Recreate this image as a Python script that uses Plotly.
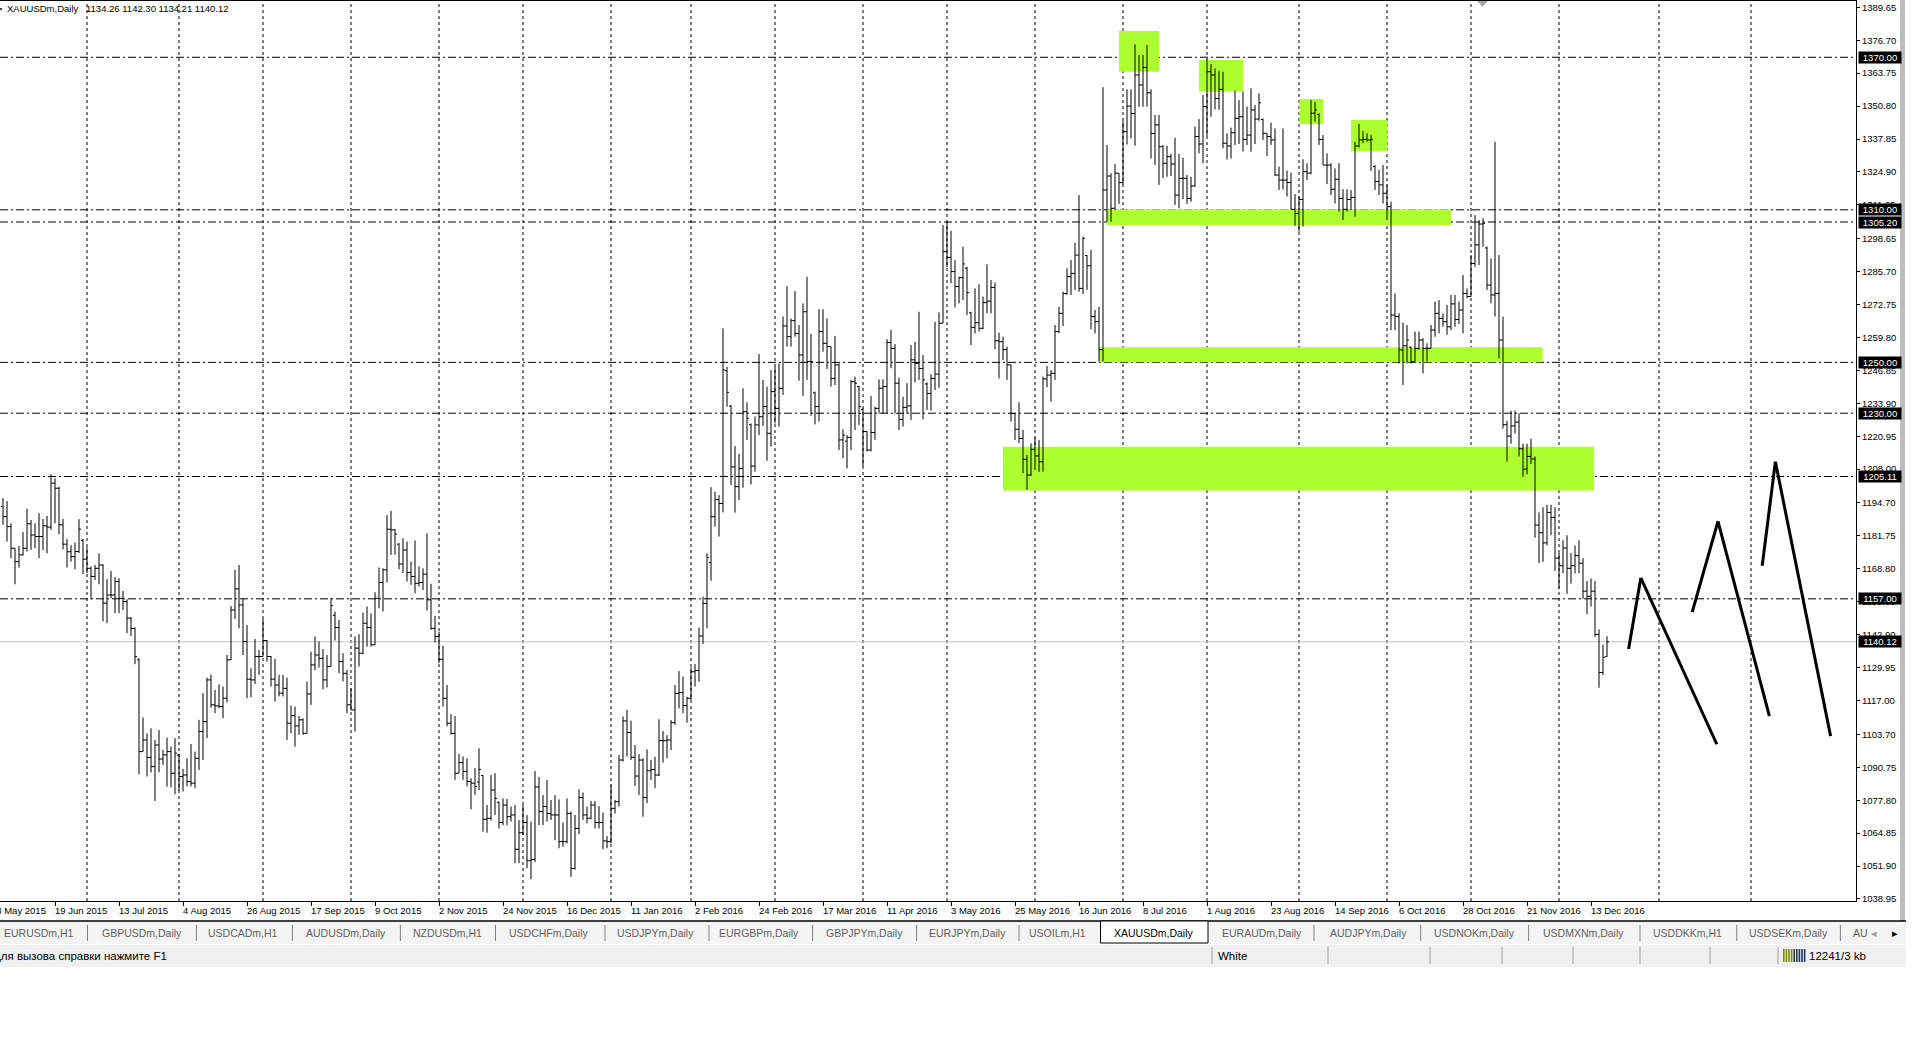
import pandas as pd
import plotly.graph_objects as go

# ---------------- data ----------------
symbol_title = "XAUUSDm,Daily"
header_ohlc = "1134.26 1142.30 1134.21 1140.12"

holidays = ["2015-12-25", "2016-01-01", "2016-03-25"]
calendar_start = "2015-05-28"
first_bar_date = "2015-06-02"
last_bar_date = "2016-12-19"

opens = [
1193.3,1189.3,1185.4,1176.9,1171.6,1174.3,1176.9,1186.5,1182.1,1181.5,
1181.5,1185.7,1185.2,1202.5,1200.5,1186.1,1178.5,1175.5,1173.6,1175.6,
1180.0,1172.6,1169.0,1165.8,1169.0,1170.3,1155.3,1158.5,1158.5,1163.8,
1157.2,1155.9,1149.4,1145.4,1133.0,1096.9,1101.5,1094.6,1091.0,1099.5,
1094.0,1095.6,1096.9,1088.4,1095.5,1087.1,1087.7,1085.1,1084.5,1094.3,
1104.8,1108.7,1125.1,1115.3,1114.9,1114.6,1117.9,1133.0,1152.6,1160.9,
1154.6,1140.2,1125.4,1125.1,1134.3,1134.3,1140.6,1134.3,1125.4,1123.1,
1119.9,1121.8,1108.1,1111.0,1107.0,1109.4,1104.1,1119.6,1131.0,1134.9,
1133.6,1125.1,1130.4,1150.5,1145.7,1132.3,1127.7,1115.3,1113.3,1137.6,
1135.6,1147.4,1145.7,1138.9,1157.2,1163.4,1168.4,1184.4,1184.1,1178.5,
1170.7,1176.2,1167.3,1165.8,1163.1,1163.4,1166.7,1156.6,1145.4,1142.2,
1133.2,1117.9,1108.1,1104.1,1088.4,1092.6,1089.1,1085.1,1084.5,1085.0,
1087.5,1070.3,1070.7,1081.8,1077.0,1069.0,1075.9,1071.3,1072.0,1058.5,
1065.0,1069.0,1054.0,1054.5,1083.0,1073.3,1075.3,1072.6,1072.0,1072.0,
1061.5,1061.5,1072.6,1051.0,1066.7,1078.8,1072.0,1070.7,1075.9,1069.0,
1069.0,1061.8,1061.5,1074.6,1077.2,1093.6,1109.0,1104.4,1094.7,1087.3,
1093.6,1078.9,1089.4,1089.9,1087.7,1101.2,1101.2,1101.5,1108.3,1119.8,
1120.1,1115.0,1117.9,1128.3,1128.8,1142.4,1155.2,1171.2,1189.3,1196.0,
1194.5,1246.7,1232.8,1208.9,1201.1,1208.3,1230.6,1225.5,1209.2,1225.4,
1228.6,1232.6,1222.1,1238.5,1231.9,1239.8,1264.3,1260.1,1266.4,1261.4,
1252.9,1269.9,1250.3,1238.0,1232.6,1262.1,1257.5,1256.2,1243.7,1249.0,
1219.5,1219.0,1220.5,1242.4,1240.5,1231.5,1222.8,1215.5,1222.4,1231.9,
1239.8,1240.5,1257.8,1255.5,1241.8,1227.6,1232.3,1232.9,1251.0,1249.6,
1247.6,1241.5,1237.8,1243.7,1245.4,1265.4,1293.5,1291.3,1285.7,1279.8,
1283.3,1287.0,1269.5,1263.8,1265.6,1263.4,1273.5,1274.1,1279.5,1258.5,
1258.1,1255.1,1249.0,1229.9,1223.7,1220.1,1211.9,1205.7,1215.8,1213.2,
1210.9,1243.5,1245.0,1245.7,1262.1,1269.3,1277.1,1283.7,1285.0,1292.2,
1279.1,1292.0,1288.0,1268.0,1266.0,1255.0,1317.8,1323.3,1310.6,1324.4,
1320.7,1340.7,1350.8,1347.9,1363.0,1359.1,1366.0,1356.0,1340.0,1343.4,
1334.8,1328.3,1330.9,1328.0,1315.8,1322.4,1322.4,1314.5,1319.4,1338.8,
1335.9,1350.6,1364.3,1363.0,1353.8,1357.4,1336.2,1335.1,1340.3,1346.0,
1346.6,1337.7,1339.4,1349.3,1345.7,1345.5,1340.1,1338.8,1337.5,1323.7,
1321.7,1321.7,1320.7,1310.2,1308.6,1314.1,1325.0,1324.4,1348.0,1347.5,
1337.7,1327.6,1327.6,1318.1,1322.0,1314.5,1310.2,1314.1,1314.9,1335.1,
1337.5,1337.7,1337.5,1327.0,1321.1,1319.8,1316.5,1311.2,1268.6,1268.0,
1254.9,1256.5,1256.0,1250.3,1255.5,1258.8,1255.5,1255.5,1262.7,1269.3,
1267.3,1266.0,1264.0,1273.0,1266.9,1270.6,1277.1,1275.9,1288.9,1296.2,
1304.4,1295.0,1280.4,1276.5,1277.1,1258.8,1225.5,1221.0,1225.0,1226.5,
1216.0,1208.0,1213.0,1212.0,1186.0,1183.0,1179.0,1191.0,1189.0,1173.0,
1170.0,1177.0,1169.0,1170.0,1174.0,1171.0,1160.0,1158.0,1160.0,1143.0,
1128.0,1134.26]

highs = [
1196.6,1195.5,1186.7,1176.9,1177.8,1183.3,1192.4,1188.0,1186.7,1190.7,
1188.4,1189.6,1206.0,1204.4,1201.1,1188.4,1180.6,1178.1,1179.1,1188.3,
1180.6,1177.3,1169.7,1170.3,1174.9,1170.6,1164.7,1168.0,1165.6,1165.1,
1160.1,1156.8,1149.8,1145.7,1133.6,1110.3,1104.1,1106.1,1101.5,1105.4,
1097.6,1102.4,1098.9,1102.2,1096.0,1090.1,1094.3,1099.9,1096.9,1109.4,
1119.9,1126.0,1127.2,1121.2,1123.4,1122.5,1134.9,1154.2,1168.4,1170.3,
1157.1,1146.7,1129.7,1141.2,1136.9,1149.1,1140.8,1134.5,1133.4,1127.1,
1127.1,1126.0,1115.0,1114.6,1110.9,1110.0,1124.5,1136.2,1142.2,1140.2,
1137.2,1134.9,1157.2,1151.9,1148.7,1135.6,1129.0,1121.8,1142.2,1143.1,
1151.6,1154.0,1151.3,1159.6,1169.3,1169.0,1190.0,1191.6,1184.4,1178.9,
1180.8,1179.5,1171.6,1179.9,1169.7,1169.0,1182.8,1162.9,1150.3,1144.1,
1138.5,1123.1,1111.6,1110.9,1096.0,1095.0,1094.3,1086.4,1090.4,1098.2,
1087.7,1075.9,1087.7,1088.4,1077.2,1078.5,1078.3,1075.3,1075.9,1070.0,
1075.9,1072.0,1069.4,1089.3,1087.0,1079.8,1085.7,1077.9,1079.8,1078.1,
1069.0,1078.5,1073.3,1072.0,1082.1,1080.8,1075.3,1077.5,1077.5,1075.5,
1072.9,1063.7,1083.8,1077.9,1095.6,1110.7,1113.3,1109.1,1099.5,1096.0,
1094.3,1097.8,1093.6,1094.9,1109.6,1105.0,1103.4,1109.3,1123.1,1128.6,
1126.4,1118.5,1130.0,1131.4,1145.7,1157.9,1174.9,1200.9,1199.1,1197.8,
1263.4,1248.3,1233.2,1217.1,1214.0,1239.8,1234.3,1226.0,1228.7,1253.3,
1243.1,1240.4,1247.0,1248.3,1249.6,1268.0,1280.0,1267.3,1278.1,1264.7,
1273.2,1283.7,1261.2,1238.5,1270.9,1270.9,1267.3,1256.2,1260.4,1249.6,
1223.7,1221.4,1243.1,1244.4,1240.7,1231.9,1222.8,1236.8,1232.6,1243.3,
1243.3,1259.1,1262.7,1257.2,1244.0,1236.5,1241.8,1256.8,1258.1,1269.9,
1252.9,1242.1,1245.4,1266.0,1269.7,1304.0,1305.3,1301.7,1290.3,1283.7,
1295.5,1287.6,1269.9,1279.1,1280.7,1275.9,1288.6,1282.4,1281.4,1261.7,
1260.1,1256.2,1249.0,1229.9,1234.3,1223.4,1213.6,1218.2,1220.5,1219.5,
1244.4,1248.6,1247.0,1264.7,1271.9,1277.8,1287.0,1290.3,1297.1,1315.8,
1299.4,1292.2,1294.2,1270.6,1271.9,1358.2,1335.5,1324.4,1328.0,1324.4,
1344.9,1357.4,1357.4,1375.1,1370.9,1370.9,1374.8,1357.4,1347.3,1347.3,
1335.5,1335.2,1332.0,1338.4,1332.0,1330.5,1323.7,1323.0,1342.7,1345.7,
1355.2,1369.2,1367.3,1365.6,1364.7,1364.3,1340.1,1342.3,1356.9,1353.2,
1356.5,1350.6,1357.8,1351.2,1355.8,1345.9,1340.1,1344.3,1342.0,1327.0,
1342.0,1325.4,1324.6,1316.2,1315.2,1329.9,1328.3,1353.2,1352.5,1347.9,
1339.4,1332.2,1328.3,1326.3,1328.3,1318.1,1318.1,1317.8,1336.8,1343.8,
1341.1,1340.1,1339.4,1327.6,1325.7,1327.6,1319.8,1313.2,1277.1,1269.3,
1265.6,1264.7,1256.2,1262.1,1262.1,1259.5,1257.5,1264.7,1273.9,1274.5,
1269.3,1272.6,1276.5,1276.5,1273.9,1284.4,1279.1,1292.2,1307.9,1306.0,
1306.7,1295.5,1290.9,1336.8,1292.2,1268.0,1227.0,1231.0,1231.0,1230.0,
1218.0,1218.0,1220.0,1213.0,1191.0,1193.0,1194.0,1194.0,1193.0,1175.0,
1180.0,1182.0,1175.0,1178.0,1180.0,1173.0,1164.0,1165.0,1164.0,1145.0,
1139.0,1142.30]

lows = [
1186.1,1179.5,1173.0,1162.7,1169.3,1174.0,1175.6,1176.2,1176.9,1173.0,
1176.2,1174.9,1184.1,1186.7,1182.4,1176.5,1169.3,1171.6,1168.6,1175.0,
1166.7,1167.1,1156.8,1164.4,1162.7,1148.1,1147.4,1157.2,1151.3,1151.3,
1152.6,1143.5,1142.4,1131.3,1088.0,1096.9,1087.1,1088.7,1077.5,1088.8,
1091.7,1083.2,1082.8,1080.1,1081.4,1081.2,1083.2,1083.2,1082.5,1089.7,
1093.6,1102.2,1114.2,1112.0,1114.0,1110.0,1116.2,1133.0,1149.1,1145.4,
1134.9,1117.9,1118.3,1123.5,1127.1,1134.3,1132.3,1122.5,1116.6,1118.6,
1118.6,1101.5,1104.1,1098.9,1103.5,1103.5,1104.1,1115.3,1129.0,1130.0,
1121.4,1122.1,1130.4,1140.6,1127.7,1124.5,1112.0,1113.3,1104.8,1130.4,
1135.2,1138.2,1138.2,1138.9,1153.3,1152.0,1163.4,1174.3,1174.3,1168.6,
1167.1,1163.8,1162.5,1159.2,1161.8,1160.5,1152.4,1144.8,1139.8,1131.7,
1114.6,1106.8,1103.5,1085.8,1088.4,1085.8,1083.2,1074.2,1079.9,1081.8,
1065.4,1065.0,1069.8,1072.0,1066.7,1068.0,1068.0,1069.4,1053.0,1053.0,
1064.1,1051.0,1046.7,1053.5,1068.0,1068.0,1069.4,1070.0,1062.1,1058.9,
1059.5,1060.8,1047.7,1050.5,1064.4,1070.0,1068.7,1070.3,1066.7,1066.7,
1058.5,1058.9,1060.8,1072.6,1075.3,1093.0,1094.9,1093.6,1083.4,1079.8,
1071.3,1076.6,1085.7,1082.5,1087.3,1092.6,1094.3,1097.5,1107.4,1113.9,
1112.0,1108.3,1117.2,1122.5,1124.4,1139.2,1145.4,1164.1,1185.4,1181.5,
1191.0,1232.6,1201.8,1190.9,1195.9,1200.7,1219.5,1202.0,1207.0,1221.4,
1225.0,1211.3,1216.9,1226.0,1224.7,1237.2,1256.2,1256.2,1260.1,1242.8,
1236.8,1243.1,1229.0,1225.6,1226.7,1254.2,1247.4,1240.4,1241.1,1215.5,
1212.3,1208.3,1215.5,1223.4,1225.4,1209.2,1214.9,1215.0,1219.5,1229.9,
1229.9,1229.9,1247.7,1229.9,1223.4,1224.7,1229.9,1227.3,1242.1,1243.1,
1227.6,1231.3,1231.0,1239.1,1240.0,1265.4,1287.4,1281.1,1271.6,1273.2,
1274.5,1268.6,1256.8,1261.4,1262.1,1263.0,1269.3,1269.3,1255.1,1243.7,
1250.9,1243.1,1226.7,1219.5,1218.2,1206.4,1199.8,1205.3,1207.7,1207.0,
1207.0,1240.2,1234.5,1243.1,1261.5,1264.3,1276.5,1276.5,1278.5,1277.8,
1276.9,1278.5,1263.0,1261.4,1250.3,1250.3,1305.3,1305.3,1310.0,1312.3,
1320.0,1335.7,1338.1,1335.2,1350.5,1350.5,1350.5,1330.2,1327.6,1319.8,
1322.4,1323.0,1323.3,1311.9,1310.6,1314.2,1312.3,1313.2,1319.1,1332.2,
1328.3,1339.0,1346.6,1349.5,1349.3,1334.2,1329.8,1330.2,1335.5,1335.9,
1332.9,1335.5,1332.9,1335.9,1345.0,1337.5,1331.2,1335.5,1323.3,1317.8,
1318.0,1315.2,1310.2,1303.6,1301.4,1303.4,1321.7,1324.0,1344.7,1335.5,
1327.6,1320.1,1315.8,1312.5,1309.3,1306.0,1309.3,1309.9,1307.3,1334.5,
1336.2,1336.8,1325.3,1317.8,1315.8,1312.5,1306.0,1262.7,1262.7,1249.6,
1241.1,1249.6,1249.6,1250.3,1254.9,1245.7,1250.3,1255.5,1260.1,1261.4,
1264.0,1260.8,1262.7,1264.0,1265.1,1261.4,1275.2,1275.9,1287.6,1288.3,
1295.5,1278.5,1273.2,1268.0,1251.6,1224.0,1211.0,1218.0,1222.0,1213.0,
1205.0,1206.0,1210.0,1181.0,1171.0,1171.5,1178.0,1182.0,1168.0,1161.0,
1167.0,1159.0,1163.0,1167.0,1167.0,1157.0,1151.0,1154.0,1142.0,1122.0,
1127.0,1134.21]

closes = [
1189.3,1185.4,1176.9,1171.6,1174.3,1176.9,1186.5,1182.1,1181.5,1181.5,
1185.7,1185.2,1202.5,1200.5,1186.1,1178.5,1175.5,1173.6,1175.6,1184.4,
1172.6,1169.0,1165.8,1169.0,1170.3,1155.3,1158.5,1158.5,1163.8,1157.2,
1155.9,1149.4,1145.4,1134.3,1096.9,1101.5,1094.6,1091.0,1099.5,1094.0,
1095.6,1096.9,1088.4,1096.3,1087.1,1087.7,1085.1,1084.5,1094.3,1104.8,
1108.7,1125.1,1115.3,1114.9,1114.6,1117.9,1133.0,1152.6,1160.9,1154.6,
1140.2,1125.4,1125.1,1134.3,1134.3,1140.6,1134.3,1125.4,1123.1,1119.9,
1121.8,1108.1,1111.0,1107.0,1109.4,1104.1,1119.6,1131.0,1134.9,1133.6,
1125.1,1130.4,1154.3,1145.7,1132.3,1127.7,1115.3,1113.3,1137.6,1135.6,
1147.4,1145.7,1138.9,1157.2,1163.4,1168.4,1184.4,1184.1,1182.5,1170.7,
1176.2,1167.3,1165.8,1163.1,1163.4,1166.7,1156.6,1145.4,1142.2,1133.2,
1117.9,1108.1,1104.1,1088.4,1092.6,1089.1,1085.1,1084.5,1083.2,1089.9,
1070.3,1070.7,1081.8,1078.5,1069.0,1075.9,1071.3,1072.0,1058.5,1065.0,
1069.0,1054.0,1054.5,1083.0,1073.3,1075.3,1072.6,1072.0,1072.0,1061.5,
1061.5,1072.6,1051.0,1066.7,1078.8,1072.0,1070.7,1075.9,1069.0,1069.0,
1061.8,1061.5,1074.6,1077.2,1093.6,1109.0,1104.4,1094.7,1087.3,1093.6,
1078.9,1089.4,1089.9,1087.7,1101.2,1101.2,1101.5,1108.3,1119.8,1120.1,
1115.0,1117.9,1128.3,1128.8,1142.4,1155.2,1173.3,1189.3,1196.0,1194.5,
1247.0,1238.2,1208.9,1201.1,1208.3,1230.6,1228.0,1209.2,1225.4,1228.6,
1232.6,1222.1,1238.5,1231.9,1239.8,1264.3,1260.1,1266.4,1261.4,1252.9,
1269.9,1250.3,1250.3,1232.6,1262.1,1257.5,1256.2,1243.7,1249.0,1219.5,
1221.4,1220.5,1242.4,1241.8,1232.6,1222.8,1215.5,1222.4,1231.9,1239.8,
1240.5,1257.8,1255.5,1241.8,1227.6,1232.3,1232.9,1251.0,1249.6,1247.6,
1243.1,1237.8,1243.7,1245.4,1265.4,1293.5,1291.3,1285.7,1279.8,1283.3,
1288.7,1277.4,1263.8,1265.6,1263.4,1273.5,1274.1,1279.5,1258.5,1258.1,
1255.1,1249.0,1229.9,1223.7,1220.1,1211.9,1205.7,1215.8,1213.2,1210.9,
1243.5,1245.0,1245.7,1262.1,1269.3,1277.1,1283.7,1285.0,1292.2,1279.1,
1298.8,1288.0,1268.0,1266.0,1255.0,1317.8,1323.3,1310.6,1324.4,1320.7,
1340.7,1350.8,1347.9,1363.0,1359.1,1366.0,1356.0,1340.0,1343.4,1334.8,
1328.3,1330.9,1328.0,1315.8,1322.4,1322.4,1314.5,1319.4,1338.8,1335.9,
1350.6,1364.3,1363.0,1353.8,1357.4,1336.2,1335.1,1340.3,1346.0,1346.6,
1337.7,1339.4,1349.3,1345.7,1352.1,1340.1,1338.8,1337.5,1323.7,1321.7,
1321.7,1320.7,1310.2,1308.6,1314.1,1325.0,1324.4,1348.0,1349.3,1337.7,
1327.6,1327.6,1318.1,1322.0,1314.5,1310.2,1314.1,1314.9,1335.1,1337.5,
1337.7,1337.5,1337.7,1321.1,1319.8,1316.5,1311.2,1268.6,1268.0,1254.9,
1256.5,1258.8,1250.3,1255.5,1258.8,1255.5,1255.5,1262.7,1269.3,1267.3,
1266.0,1264.0,1273.0,1266.9,1270.6,1277.1,1275.9,1288.9,1296.2,1304.4,
1304.7,1280.4,1276.5,1277.1,1258.8,1225.5,1221.0,1225.0,1226.5,1216.0,
1208.0,1213.0,1212.0,1186.0,1183.0,1179.0,1191.0,1189.0,1173.0,1170.0,
1177.0,1169.0,1170.0,1174.0,1171.0,1160.0,1158.0,1160.0,1143.0,1128.0,
1134.0,1140.12]

# price axis labels as printed by the terminal
price_ticks = [1389.65, 1376.70, 1363.75, 1350.80, 1337.85, 1324.90, 1311.95, 1298.65,
               1285.70, 1272.75, 1259.80, 1246.85, 1233.90, 1220.95, 1208.00, 1194.70,
               1181.75, 1168.80, 1155.85, 1142.90, 1129.95, 1117.00, 1103.70, 1090.75,
               1077.80, 1064.85, 1051.90, 1038.95]

# time axis labels
date_labels = ["28 May 2015", "19 Jun 2015", "13 Jul 2015", "4 Aug 2015", "26 Aug 2015",
               "17 Sep 2015", "9 Oct 2015", "2 Nov 2015", "24 Nov 2015", "16 Dec 2015",
               "11 Jan 2016", "2 Feb 2016", "24 Feb 2016", "17 Mar 2016", "11 Apr 2016",
               "3 May 2016", "25 May 2016", "16 Jun 2016", "8 Jul 2016", "1 Aug 2016",
               "23 Aug 2016", "14 Sep 2016", "6 Oct 2016", "28 Oct 2016", "21 Nov 2016",
               "13 Dec 2016"]

# user-drawn horizontal levels
level_lines = [1370.00, 1310.00, 1305.20, 1250.00, 1230.00, 1205.11, 1157.00]
bid_price = 1140.12

# user-drawn green zones: (from bar, to bar, low price, high price)
zones = [
    (279.0, 289.0, 1364.3, 1380.3),
    (299.0, 310.0, 1356.5, 1368.9),
    (324.1, 330.0, 1343.7, 1353.6),
    (337.0, 346.1, 1333.1, 1345.3),
    (275.9, 362.0, 1304.0, 1310.2),
    (274.0, 384.9, 1250.0, 1255.9),
    (250.0, 397.8, 1199.6, 1216.8),
]

# user-drawn forecast zig-zag: (bar0, price0, bar1, price1)
forecast = [
    (406.4, 1137.3, 409.45, 1165.2),
    (409.45, 1165.2, 428.45, 1099.8),
    (422.3, 1151.8, 428.75, 1187.5),
    (428.75, 1187.5, 441.6, 1110.9),
    (439.8, 1170.0, 443.1, 1210.9),
    (443.1, 1210.9, 456.9, 1103.0),
]
future_month_bars = [414, 437]

tabs = ["EURUSDm,H1", "GBPUSDm,Daily", "USDCADm,H1", "AUDUSDm,Daily", "NZDUSDm,H1",
        "USDCHFm,Daily", "USDJPYm,Daily", "EURGBPm,Daily", "GBPJPYm,Daily", "EURJPYm,Daily",
        "USOILm,H1", "XAUUSDm,Daily", "EURAUDm,Daily", "AUDJPYm,Daily", "USDNOKm,Daily",
        "USDMXNm,Daily", "USDDKKm,H1", "USDSEKm,Daily", "AU"]
active_tab = "XAUUSDm,Daily"
status_help = "Для вызова справки нажмите F1"
status_profile = "White"
status_traffic = "12241/3 kb"

# ---------------- layout constants (pixels) ----------------
W, H = 1920, 1040
PL, PR, PT, PB = 0, 1856, 1, 901
BAR_PX = 4.0
X0 = -0.75
X1 = X0 + (PR - PL) / BAR_PX
Y_MIN, Y_MAX = 1038.15, 1392.13
FONT = "Liberation Sans, Arial, sans-serif"
FS = 9.5
FS_TAB = 10.5
FS_STATUS = 11.5

tab_centers = [38.5, 141.5, 243, 346.3, 447.4, 549.4, 655.5, 759, 864, 967, 1057.5,
               1153.5, 1262, 1368, 1474, 1583, 1687, 1788, 1860]
tab_separators = [87.5, 196.4, 292.4, 400.4, 495.5, 605, 709, 812.6, 916.6, 1019,
                  1314, 1420.7, 1528.6, 1640, 1736.8, 1840.4]
status_separators = [1212, 1328, 1430, 1502, 1573, 1640, 1710, 1778]


def px(x):
    return (x - PL) / (PR - PL)


def py(y):
    return (PB - y) / (PB - PT)


def bar_px(i):
    return PL + (i - X0) * BAR_PX


# ---------------- calendar ----------------
cal = [d for d in pd.bdate_range(calendar_start, last_bar_date)
       if d.strftime("%Y-%m-%d") not in holidays]
offset = cal.index(pd.Timestamp(first_bar_date))
dates = cal[offset:]
xs = list(range(len(closes)))

label_pos = []
for lab in date_labels:
    ts = pd.Timestamp(pd.to_datetime(lab, format="%d %b %Y"))
    label_pos.append(cal.index(ts) - offset)

month_bars = []
for i in range(1, len(dates)):
    if dates[i].month != dates[i - 1].month:
        month_bars.append(i)
month_bars += future_month_bars

# ---------------- figure ----------------
fig = go.Figure()
fig.add_trace(go.Ohlc(
    x=xs, open=opens, high=highs, low=lows, close=closes,
    increasing=dict(line=dict(color="black", width=1)),
    decreasing=dict(line=dict(color="black", width=1)),
    tickwidth=0.5, hoverinfo="skip", showlegend=False,
))

shapes = []
for (a, b, lo, hi) in zones:
    shapes.append(dict(type="rect", xref="x", yref="y", x0=a, x1=b, y0=lo, y1=hi,
                       fillcolor="#ADFF2F", line=dict(width=0), layer="below"))
for m in month_bars:
    shapes.append(dict(type="line", xref="x", yref="paper", x0=m, x1=m, y0=0, y1=1,
                       line=dict(color="black", width=1, dash="3px,3px"), layer="below"))
for lv in level_lines:
    shapes.append(dict(type="line", xref="paper", yref="y", x0=0, x1=1, y0=lv, y1=lv,
                       line=dict(color="black", width=1, dash="8px,3px,2px,3px"), layer="below"))
shapes.append(dict(type="line", xref="paper", yref="y", x0=0, x1=1, y0=bid_price, y1=bid_price,
                   line=dict(color="#C0C0C0", width=1), layer="below"))
for (a, pa, b, pb) in forecast:
    shapes.append(dict(type="line", xref="x", yref="y", x0=a, y0=pa, x1=b, y1=pb,
                       line=dict(color="black", width=3)))
# chart shift marker and corner mark
shapes.append(dict(type="path", xref="paper", yref="paper",
                   path="M {},{} L {},{} L {},{} Z".format(px(1477), py(1), px(1488), py(1), px(1482.5), py(7)),
                   fillcolor="#A8A8A8", line=dict(width=0)))
shapes.append(dict(type="rect", xref="paper", yref="paper", x0=px(0), x1=px(2),
                   y0=py(10), y1=py(8), fillcolor="#404040", line=dict(width=0)))
# right window border
shapes.append(dict(type="rect", xref="paper", yref="paper", x0=px(1900), x1=px(1905),
                   y0=py(921), y1=py(-1), fillcolor="#BDBDBD", line=dict(width=0)))
# tab bar
shapes.append(dict(type="rect", xref="paper", yref="paper", x0=px(-2), x1=px(1906),
                   y0=py(944), y1=py(921), fillcolor="#F4F4F4", line=dict(width=0)))
shapes.append(dict(type="line", xref="paper", yref="paper", x0=px(0), x1=px(1906),
                   y0=py(921), y1=py(921), line=dict(color="black", width=1.5)))
for s in tab_separators:
    shapes.append(dict(type="line", xref="paper", yref="paper", x0=px(s), x1=px(s),
                       y0=py(941), y1=py(925), line=dict(color="#808080", width=1)))
shapes.append(dict(type="rect", xref="paper", yref="paper", x0=px(1100.5), x1=px(1208),
                   y0=py(943), y1=py(921), fillcolor="white", line=dict(color="black", width=1)))
# status bar
shapes.append(dict(type="rect", xref="paper", yref="paper", x0=px(-2), x1=px(1906),
                   y0=py(967), y1=py(945), fillcolor="#F0F0F0", line=dict(width=0)))
for s in status_separators:
    shapes.append(dict(type="line", xref="paper", yref="paper", x0=px(s), x1=px(s),
                       y0=py(964), y1=py(947), line=dict(color="#A0A0A0", width=1)))
for k in range(9):
    xk = 1783 + k * 2.6
    col = "#7A8C00" if k < 4 else "#1E3A5F"
    shapes.append(dict(type="rect", xref="paper", yref="paper", x0=px(xk), x1=px(xk + 1.6),
                       y0=py(962), y1=py(949), fillcolor=col, line=dict(width=0)))

annotations = []
annotations.append(dict(text=symbol_title, xref="paper", yref="paper", x=px(5), y=py(9),
                        xanchor="left", yanchor="middle", showarrow=False,
                        font=dict(family=FONT, size=FS, color="black")))
annotations.append(dict(text=header_ohlc, xref="paper", yref="paper", x=px(84), y=py(9),
                        xanchor="left", yanchor="middle", showarrow=False,
                        font=dict(family=FONT, size=FS, color="black")))
for lab, pos in zip(date_labels, label_pos):
    annotations.append(dict(text=lab, xref="paper", yref="paper", x=px(bar_px(pos) - 2), y=py(910),
                            xanchor="left", yanchor="middle", showarrow=False,
                            font=dict(family=FONT, size=FS, color="black")))
for lv in level_lines + [bid_price]:
    annotations.append(dict(text="{:.2f}".format(lv), xref="paper", yref="y", x=px(1858), y=lv,
                            xanchor="left", yanchor="middle", showarrow=False,
                            bgcolor="black", borderpad=0, width=42, height=11, align="center",
                            font=dict(family=FONT, size=FS, color="white")))
for name, cx in zip(tabs, tab_centers):
    annotations.append(dict(text=name, xref="paper", yref="paper", x=px(cx), y=py(933),
                            xanchor="center", yanchor="middle", showarrow=False,
                            font=dict(family=FONT, size=FS_TAB,
                                      color="black" if name == active_tab else "#5F5F5F")))
annotations.append(dict(text="◂", xref="paper", yref="paper", x=px(1874), y=py(933),
                        xanchor="center", yanchor="middle", showarrow=False,
                        font=dict(family=FONT, size=FS_TAB, color="#A0A0A0")))
annotations.append(dict(text="▸", xref="paper", yref="paper", x=px(1895), y=py(933),
                        xanchor="center", yanchor="middle", showarrow=False,
                        font=dict(family=FONT, size=FS_TAB, color="black")))
annotations.append(dict(text=status_help, xref="paper", yref="paper", x=px(-9), y=py(956),
                        xanchor="left", yanchor="middle", showarrow=False,
                        font=dict(family=FONT, size=FS_STATUS, color="black")))
annotations.append(dict(text=status_profile, xref="paper", yref="paper", x=px(1216), y=py(956),
                        xanchor="left", yanchor="middle", showarrow=False,
                        font=dict(family=FONT, size=FS_STATUS, color="black")))
annotations.append(dict(text=status_traffic, xref="paper", yref="paper", x=px(1807), y=py(956),
                        xanchor="left", yanchor="middle", showarrow=False,
                        font=dict(family=FONT, size=FS_STATUS, color="black")))

fig.update_layout(
    width=W, height=H, autosize=False,
    margin=dict(l=PL, r=W - PR, t=PT, b=H - PB, pad=0),
    paper_bgcolor="white", plot_bgcolor="white",
    showlegend=False, hovermode=False,
    shapes=shapes, annotations=annotations,
    font=dict(family=FONT, size=FS, color="black"),
    xaxis=dict(range=[X0, X1], showgrid=False, zeroline=False, showline=True,
               linecolor="black", linewidth=1, mirror=True,
               ticks="outside", ticklen=4, tickcolor="black", tickwidth=1,
               tickvals=[p for p in label_pos if p >= 0], showticklabels=False,
               rangeslider=dict(visible=False), fixedrange=True),
    yaxis=dict(range=[Y_MIN, Y_MAX], side="right", showgrid=False, zeroline=False,
               showline=True, linecolor="black", linewidth=1, mirror=False,
               ticks="outside", ticklen=3, tickcolor="black", tickwidth=1,
               tickvals=price_ticks, ticktext=["{:.2f}".format(v) for v in price_ticks],
               tickfont=dict(family=FONT, size=FS, color="black"), fixedrange=True),
)

fig.write_html("out.html", config={"displayModeBar": False, "staticPlot": True},
               post_script="document.body.style.margin='0px';document.body.style.overflow='hidden';")
